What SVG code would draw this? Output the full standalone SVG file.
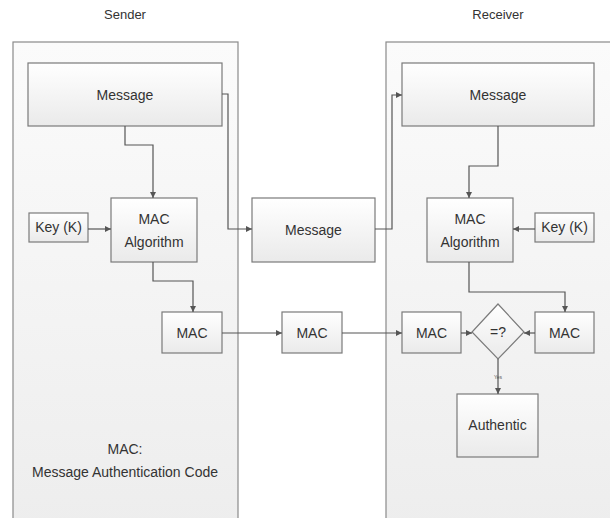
<svg xmlns="http://www.w3.org/2000/svg" width="610" height="518" viewBox="0 0 610 518">
<defs>
<linearGradient id="panelG" x1="0" y1="0" x2="0" y2="1">
<stop offset="0" stop-color="#fbfbfb"/><stop offset="1" stop-color="#ededed"/>
</linearGradient>
<linearGradient id="boxG" x1="0" y1="0" x2="0" y2="1">
<stop offset="0" stop-color="#ffffff"/><stop offset="1" stop-color="#eaeaea"/>
</linearGradient>
<marker id="ah" markerWidth="8" markerHeight="8" refX="7" refY="4" orient="auto" markerUnits="userSpaceOnUse">
<path d="M1,1 L7,4 L1,7 Z" fill="#555"/>
</marker>
</defs>
<style>
.panel{fill:url(#panelG);stroke:#8a8a8a;stroke-width:1.2}
.box{fill:url(#boxG);stroke:#7a7a7a;stroke-width:1.2}
.t{font-family:"Liberation Sans",Arial,sans-serif;font-size:14px;fill:#333;text-anchor:middle}
.title{font-family:"Liberation Sans",Arial,sans-serif;font-size:13px;fill:#333;text-anchor:middle}
.c{fill:none;stroke:#555;stroke-width:1.2;marker-end:url(#ah)}
</style>
<rect width="610" height="518" fill="#fff"/>
<text class="title" x="125" y="19">Sender</text>
<text class="title" x="498" y="19">Receiver</text>
<g id="sender-panel"><rect class="panel" x="13" y="42" width="225" height="490"/></g>
<g id="receiver-panel"><rect class="panel" x="386" y="42" width="240" height="490"/></g>
<g id="s-message"><rect class="box" x="28" y="63" width="194" height="63"/><text class="t" x="125" y="100">Message</text></g>
<g id="r-message"><rect class="box" x="402" y="63" width="192" height="63"/><text class="t" x="498" y="100">Message</text></g>
<g id="s-key"><rect class="box" x="29" y="213" width="59" height="29"/><text class="t" x="58.5" y="232">Key (K)</text></g>
<g id="s-macalg"><rect class="box" x="111" y="198" width="86" height="64"/><text class="t" x="154" y="224">MAC</text><text class="t" x="154" y="247">Algorithm</text></g>
<g id="m-message"><rect class="box" x="252" y="198" width="123" height="64"/><text class="t" x="313.5" y="235">Message</text></g>
<g id="r-macalg"><rect class="box" x="427" y="198" width="86" height="64"/><text class="t" x="470" y="224">MAC</text><text class="t" x="470" y="247">Algorithm</text></g>
<g id="r-key"><rect class="box" x="535" y="213" width="59" height="29"/><text class="t" x="564.5" y="232">Key (K)</text></g>
<g id="s-mac"><rect class="box" x="162" y="312" width="60" height="41"/><text class="t" x="192" y="338">MAC</text></g>
<g id="m-mac"><rect class="box" x="282" y="312" width="60" height="41"/><text class="t" x="312" y="338">MAC</text></g>
<g id="r-mac"><rect class="box" x="402" y="312" width="59" height="41"/><text class="t" x="431.5" y="338">MAC</text></g>
<g id="compare"><path class="box" d="M498,304 L524,332 L498,359 L472,332 Z"/><text class="t" x="498" y="337">=?</text></g>
<g id="r-mac2"><rect class="box" x="535" y="312" width="59" height="41"/><text class="t" x="564.5" y="338">MAC</text></g>
<g id="authentic"><rect class="box" x="457" y="394" width="81" height="63"/><text class="t" x="497.5" y="430">Authentic</text></g>
<g id="note"><text class="t" x="125" y="454">MAC:</text><text class="t" x="125" y="477">Message Authentication Code</text></g>
<g id="connectors">
<path class="c" d="M125,126 V145 H153 V198"/>
<path class="c" d="M222,94 H228 V229 H252"/>
<path class="c" d="M88,229 H111"/>
<path class="c" d="M375,229 H392 V95 H402"/>
<path class="c" d="M498,126 V166 H469 V198"/>
<path class="c" d="M535,229 H513"/>
<path class="c" d="M153,262 V281 H193 V312"/>
<path class="c" d="M222,333 H282"/>
<path class="c" d="M342,333 H402"/>
<path class="c" d="M461,333 H472"/>
<path class="c" d="M535,333 H524"/>
<path class="c" d="M469,262 V292 H565 V312"/>
<path class="c" d="M498,359 V394"/>
<text x="498" y="379" font-family="Liberation Sans,Arial,sans-serif" font-size="5" fill="#555" text-anchor="middle">Yes</text>
</g>
</svg>
